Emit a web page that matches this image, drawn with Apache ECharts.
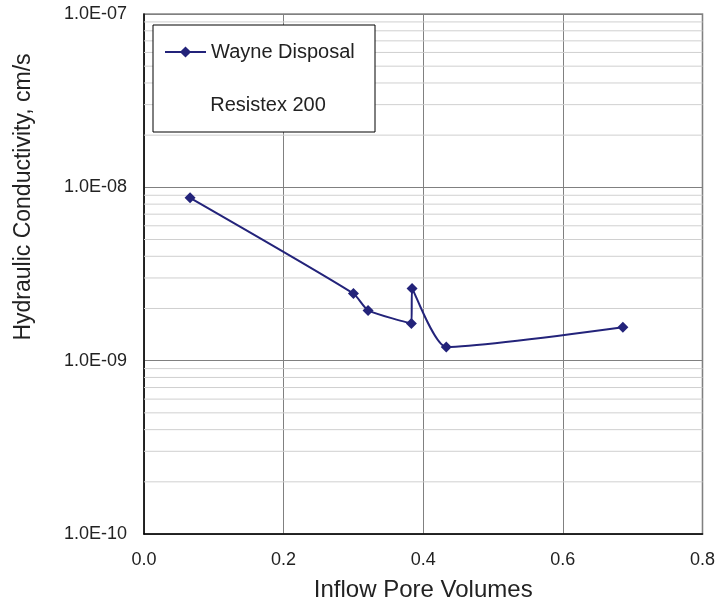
<!DOCTYPE html>
<html>
<head>
<meta charset="utf-8">
<script src="https://cdn.jsdelivr.net/npm/echarts@6/dist/echarts.min.js"></script>
<style>
    html, body { margin: 0; padding: 0; background: #fff; }
    #chart { width: 718px; height: 607px; }
</style>
</head>
<body>
<div id="chart"></div>
<script>
// inflow pore volumes vs hydraulic conductivity (cm/s)
var poreVolumes = [0.066, 0.300, 0.321, 0.383, 0.384, 0.433, 0.686];
var conductivity = [8.7e-9, 2.44e-9, 1.95e-9, 1.64e-9, 2.61e-9, 1.20e-9, 1.56e-9];
var xTicks = [0, 0.2, 0.4, 0.6, 0.8];
var yDecades = [1e-10, 1e-9, 1e-8, 1e-7];

var fontName = "'Liberation Sans', Arial, sans-serif";

function fmtSci(v) {
    var e = Math.floor(Math.log10(v) + 1e-9);
    var m = v / Math.pow(10, e);
    return m.toFixed(1) + 'E' + (e < 0 ? '-' : '+') + String(Math.abs(e)).padStart(2, '0');
}

// minor grid lines at 2..9 of each decade
var minorLines = [];
for (var d = 0; d < yDecades.length - 1; d++) {
    for (var k = 2; k <= 9; k++) {
        minorLines.push([xTicks[0], k * yDecades[d]]);
    }
}

var seriesData = [];
for (var i = 0; i < poreVolumes.length; i++) {
    seriesData.push([poreVolumes[i], conductivity[i]]);
}

var option = {
    backgroundColor: '#fff',
    animation: false,
    grid: {
        left: 144, right: 14, top: 14, bottom: 70,
        show: true,
        borderColor: '#888',
        borderWidth: 1.6
    },
    legend: {
        left: 159,
        top: 37,
        itemWidth: 41,
        itemHeight: 14,
        z: 5,
        data: ['Wayne Disposal'],
        textStyle: { fontFamily: fontName, fontSize: 20, color: '#222' }
    },
    graphic: [
        {
            type: 'rect', z: 3,
            shape: { x: 153, y: 25, width: 222, height: 107 },
            style: { fill: '#fff', stroke: '#000', lineWidth: 1 }
        },
        {
            type: 'text', z: 6,
            style: {
                x: 268, y: 105, text: 'Resistex 200',
                fontFamily: fontName, fontSize: 20, fill: '#222',
                textAlign: 'center', textVerticalAlign: 'middle'
            }
        },
        {
            type: 'text', z: 6,
            x: 24, y: 197, rotation: Math.PI / 2,
            style: {
                text: 'Hydraulic Conductivity, cm/s',
                fontFamily: fontName, fontSize: 23, fill: '#222',
                textAlign: 'center', textVerticalAlign: 'middle'
            }
        }
    ],
    xAxis: {
        type: 'value',
        min: xTicks[0],
        max: xTicks[xTicks.length - 1],
        interval: 0.2,
        name: 'Inflow Pore Volumes',
        nameLocation: 'middle',
        nameGap: 44,
        nameTextStyle: { fontFamily: fontName, fontSize: 24, color: '#222', verticalAlign: 'top' },
        axisLine: { show: true, onZero: false, lineStyle: { color: '#000', width: 1.5 } },
        axisTick: { show: false },
        axisLabel: {
            fontFamily: fontName, fontSize: 18, color: '#222', margin: 17,
            formatter: function (v) { return v.toFixed(1); }
        },
        splitLine: { show: true, lineStyle: { color: '#808080', width: 1 } }
    },
    yAxis: {
        type: 'log',
        logBase: 10,
        min: yDecades[0],
        max: yDecades[yDecades.length - 1],
        axisLine: { show: true, lineStyle: { color: '#000', width: 1.5 } },
        axisTick: { show: false },
        axisLabel: {
            fontFamily: fontName, fontSize: 18, color: '#222', margin: 17,
            formatter: function (v) { return fmtSci(v); }
        },
        splitLine: { show: true, lineStyle: { color: '#808080', width: 1 } }
    },
    series: [
        {
            // light minor grid lines, drawn through the axis scales
            name: 'minor',
            type: 'custom',
            silent: true,
            z: 1,
            data: minorLines,
            renderItem: function (params, api) {
                var p0 = api.coord([xTicks[0], api.value(1)]);
                var p1 = api.coord([xTicks[xTicks.length - 1], api.value(1)]);
                return {
                    type: 'line',
                    shape: { x1: p0[0], y1: p0[1], x2: p1[0], y2: p1[1] },
                    style: { stroke: '#d0d0d0', lineWidth: 1 }
                };
            }
        },
        {
            name: 'Wayne Disposal',
            type: 'line',
            data: seriesData,
            smooth: 0.2,
            symbol: 'diamond',
            symbolSize: 11,
            z: 4,
            lineStyle: { color: '#23237a', width: 2 },
            itemStyle: { color: '#23237a' }
        }
    ]
};

var myChart = echarts.init(document.getElementById('chart'));
myChart.setOption(option);
</script>
</body>
</html>
